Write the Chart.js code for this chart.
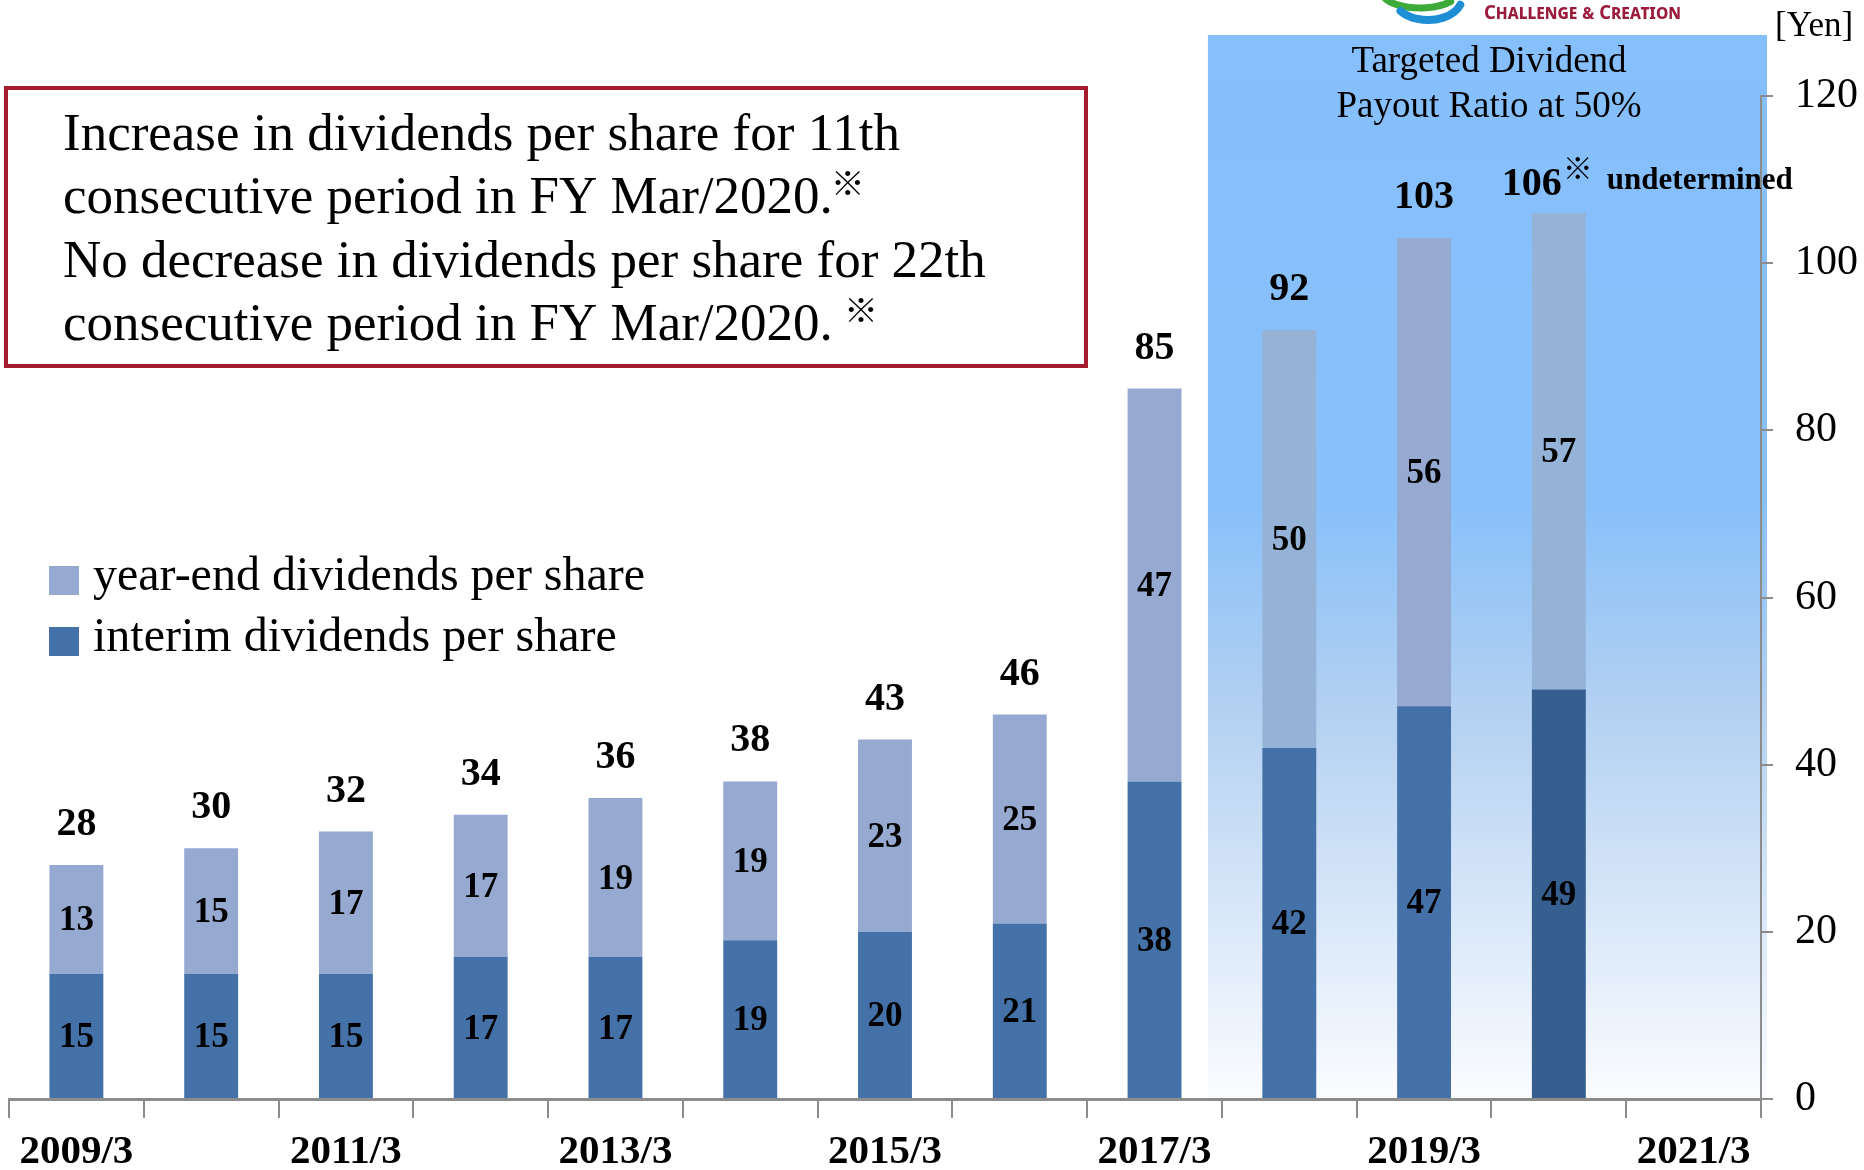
<!DOCTYPE html>
<html>
<head>
<meta charset="utf-8">
<script src="https://cdn.jsdelivr.net/npm/chart.js@4.4.1/dist/chart.umd.min.js"></script>
<style>
  html, body { margin: 0; padding: 0; background: #fff; }
  #wrap { width: 1864px; height: 1170px; }
</style>
</head>
<body>
<div id="wrap"><canvas id="dividendChart"></canvas></div>
<script>
// fiscal years (FY ending March)
const categories = ['2009/3', '2010/3', '2011/3', '2012/3', '2013/3', '2014/3', '2015/3',
                    '2016/3', '2017/3', '2018/3', '2019/3', '2020/3', '2021/3'];
const interimDividends = [15, 15, 15, 17, 17, 19, 20, 21, 38, 42, 47, 49, null];
const yearEndDividends = [13, 15, 17, 17, 19, 19, 23, 25, 47, 50, 56, 57, null];
const seriesNames = ['interim dividends per share', 'year-end dividends per share'];
const yMin = 0, yMax = 120, yStep = 20;

const boxLines = [
    'Increase in dividends per share for 11th',
    'consecutive period in FY Mar/2020.',
    'No decrease in dividends per share for 22th',
    'consecutive period in FY Mar/2020. '
];
const targetText = ['Targeted Dividend', 'Payout Ratio at 50%'];
const forecastNote = 'undetermined';
const unitLabel = '[Yen]';
const noteMark = '\u203B';

const serif = '"Liberation Serif", "Times New Roman", serif';
const cjk = '"Noto Sans CJK JP", "DejaVu Sans", sans-serif';
const forecastIndex = 11;

const interimColors = interimDividends.map((v, i) => i === forecastIndex ? '#365F8F' : '#4472A8');
const yearEndColors = yearEndDividends.map((v, i) => {
    if (i === 9 || i === 11) return '#95B3D7';
    return '#95A9D1';
});

const decorPlugin = {
    id: 'decor',
    beforeDraw(chart) {
        const ctx = chart.ctx;
        const x = chart.scales.x;
        const area = chart.chartArea;
        ctx.save();
        ctx.fillStyle = '#fff';
        ctx.fillRect(0, 0, chart.width, chart.height);

        // blue target zone behind the last years
        const half = (x.getPixelForValue(1) - x.getPixelForValue(0)) / 2;
        const left = x.getPixelForValue(9) - half - 14;
        const right = area.right + 6;
        const top = 35;
        const g = ctx.createLinearGradient(0, top, 0, area.bottom);
        g.addColorStop(0, '#85BFFC');
        g.addColorStop(0.44, '#88C0FA');
        g.addColorStop(0.62, '#B0CFF1');
        g.addColorStop(1, '#FBFCFF');
        ctx.fillStyle = g;
        ctx.fillRect(left, top, right - left, area.bottom - top);
        ctx.restore();
    },
    afterDatasetsDraw(chart) {
        const ctx = chart.ctx;
        const y = chart.scales.y;
        const m0 = chart.getDatasetMeta(0);
        const m1 = chart.getDatasetMeta(1);
        ctx.save();
        ctx.fillStyle = '#000';
        ctx.textAlign = 'center';
        ctx.textBaseline = 'middle';

        // values inside each segment
        ctx.font = 'bold 35px ' + serif;
        interimDividends.forEach((v, i) => {
            if (v == null) return;
            const b0 = m0.data[i], b1 = m1.data[i];
            ctx.fillText(String(v), b0.x, (b0.y + b0.base) / 2 + 2);
            ctx.fillText(String(yearEndDividends[i]), b1.x, (b1.y + b1.base) / 2 + 2);
        });

        // totals above the bars
        ctx.textBaseline = 'alphabetic';
        ctx.font = 'bold 40px ' + serif;
        interimDividends.forEach((v, i) => {
            if (v == null) return;
            const total = v + yearEndDividends[i];
            const bx = m1.data[i].x;
            const ty = y.getPixelForValue(total);
            if (i === forecastIndex) {
                ctx.textAlign = 'right';
                ctx.fillText(String(total), bx + 3, ty - 18);
                ctx.textAlign = 'left';
                ctx.textBaseline = 'top';
                ctx.font = 'bold 30px ' + cjk;
                ctx.fillText(noteMark, bx + 4, ty - 60);
                ctx.textBaseline = 'alphabetic';
                ctx.font = 'bold 31px ' + serif;
                ctx.fillText(forecastNote, bx + 48, ty - 24);
                ctx.font = 'bold 40px ' + serif;
                ctx.textAlign = 'center';
            } else {
                ctx.fillText(String(total), bx, ty - 30);
            }
        });

        // target zone caption
        ctx.font = '37px ' + serif;
        ctx.fillText(targetText[0], 1489, 72);
        ctx.fillText(targetText[1], 1489, 117);

        // unit
        ctx.textAlign = 'left';
        ctx.font = '35px ' + serif;
        ctx.fillText(unitLabel, 1775, 36);

        // legend
        const legendItems = [
            { text: seriesNames[1], color: '#95A9D1', y: 566 },
            { text: seriesNames[0], color: '#4472A8', y: 627 }
        ];
        ctx.font = '48px ' + serif;
        legendItems.forEach(it => {
            ctx.fillStyle = it.color;
            ctx.fillRect(49, it.y, 30, 29);
            ctx.fillStyle = '#000';
            ctx.fillText(it.text, 93, it.y + 24);
        });

        // message box
        ctx.strokeStyle = '#A31B2C';
        ctx.lineWidth = 4;
        ctx.strokeRect(6, 88, 1080, 278);
        const baselines = [150, 213, 277, 340];
        boxLines.forEach((t, i) => {
            ctx.font = '53px ' + serif;
            ctx.textBaseline = 'alphabetic';
            ctx.fillText(t, 63, baselines[i]);
            if (i % 2 === 1) {
                const w = ctx.measureText(t).width;
                ctx.font = '34px ' + cjk;
                ctx.textBaseline = 'top';
                ctx.fillText(noteMark, 63 + w - 2, baselines[i] - 47);
            }
        });
        ctx.textBaseline = 'alphabetic';

        // logo fragment at top
        ctx.lineCap = 'round';
        ctx.lineWidth = 7;
        ctx.strokeStyle = '#3DAA3A';
        ctx.beginPath();
        ctx.ellipse(1420, -8, 38, 16, 0, 0.2 * Math.PI, 0.95 * Math.PI);
        ctx.stroke();
        ctx.strokeStyle = '#1E8FD5';
        ctx.lineWidth = 8;
        ctx.beginPath();
        ctx.ellipse(1428, -2, 34, 22, 0, 0.1 * Math.PI, 0.8 * Math.PI);
        ctx.stroke();
        ctx.fillStyle = '#9B1B3A';
        ctx.font = 'small-caps bold 20px "Noto Sans", sans-serif';
        const lt = 'Challenge & Creation';
        const lw = ctx.measureText(lt).width;
        ctx.save();
        ctx.translate(1484, 19);
        ctx.scale(197 / lw, 1);
        ctx.fillText(lt, 0, 0);
        ctx.restore();

        ctx.restore();
    }
};

const ctx = document.getElementById('dividendChart').getContext('2d');
new Chart(ctx, {
    type: 'bar',
    data: {
        labels: categories,
        datasets: [{
            label: seriesNames[0],
            data: interimDividends,
            backgroundColor: interimColors,
            borderWidth: 0
        }, {
            label: seriesNames[1],
            data: yearEndDividends,
            backgroundColor: yearEndColors,
            borderWidth: 0
        }]
    },
    options: {
        responsive: true,
        maintainAspectRatio: false,
        animation: false,
        barPercentage: 0.4,
        categoryPercentage: 1.0,
        layout: { padding: { left: 9, top: 96, right: 0, bottom: 0 } },
        plugins: {
            legend: { display: false },
            tooltip: { enabled: false }
        },
        scales: {
            x: {
                stacked: true,
                afterFit: (s) => { s.height = 71; },
                grid: {
                    drawOnChartArea: false,
                    tickLength: 19,
                    color: '#8C8C8C',
                    lineWidth: 2
                },
                border: { color: '#8C8C8C', width: 3 },
                ticks: {
                    autoSkip: false,
                    maxRotation: 0,
                    padding: 10,
                    color: '#000',
                    font: { family: serif, size: 41, weight: 'bold' },
                    callback: (v, i) => i % 2 === 0 ? categories[i] : ''
                }
            },
            y: {
                stacked: true,
                position: 'right',
                min: yMin,
                max: yMax,
                afterFit: (s) => { s.width = 103; },
                grid: {
                    drawOnChartArea: false,
                    tickLength: 12,
                    color: '#8C8C8C',
                    lineWidth: 2
                },
                border: { color: '#8C8C8C', width: 2 },
                ticks: {
                    stepSize: yStep,
                    padding: 22,
                    color: '#000',
                    font: { family: serif, size: 42 }
                }
            }
        }
    },
    plugins: [decorPlugin]
});
</script>
</body>
</html>
